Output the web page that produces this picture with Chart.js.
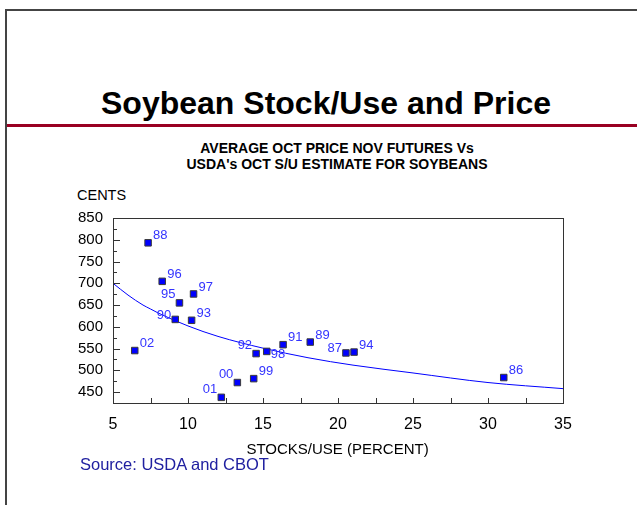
<!DOCTYPE html>
<html>
<head>
<meta charset="utf-8">
<script src="https://cdn.jsdelivr.net/npm/chart.js@4.4.1/dist/chart.umd.min.js"></script>
<style>
body { margin: 0; width: 637px; height: 505px; overflow: hidden; background: #fff; position: relative; font-family: "Liberation Sans", Arial, sans-serif; }
#marco { position: absolute; left: 5px; top: 9px; width: 640px; height: 500px; border-top: 2px solid #444; border-left: 2px solid #444; }
#titulo { position: absolute; left: 0; width: 652px; top: 87px; text-align: center; font-size: 32px; line-height: 32px; font-weight: bold; color: #000; }
#raya { position: absolute; left: 7px; right: 0; top: 124px; height: 3px; background: #990022; }
#subtitulo { position: absolute; left: 0; width: 674px; top: 139.6px; text-align: center; font-size: 14px; line-height: 16.5px; font-weight: bold; color: #000; }
#cents { position: absolute; left: 77px; top: 187.7px; font-size: 14.5px; line-height: 14.5px; color: #000; }
#ejex { position: absolute; left: 0; width: 675px; top: 440.6px; text-align: center; font-size: 15px; line-height: 15px; color: #000; }
#fuente { position: absolute; left: 80px; top: 456px; font-size: 16.5px; line-height: 16.5px; color: #2020a0; }
#grafico { position: absolute; left: 0; top: 0; }
</style>
</head>
<body>
<div id="marco"></div>
<div id="titulo">Soybean Stock/Use and Price</div>
<div id="raya"></div>
<div id="subtitulo">AVERAGE OCT PRICE NOV FUTURES Vs<br>USDA's OCT S/U ESTIMATE FOR SOYBEANS</div>
<div id="cents">CENTS</div>
<canvas id="grafico" width="637" height="505"></canvas>
<div id="ejex">STOCKS/USE (PERCENT)</div>
<div id="fuente">Source: USDA and CBOT</div>

<script>
/* ***** Datos ***** */
const anios = ["86", "87", "88", "89", "90", "91", "92", "93", "94", "95", "96", "97", "98", "99", "00", "01", "02"];
const stocksUso = [31.05, 20.53, 7.34, 18.15, 9.15, 16.34, 14.54, 10.24, 21.07, 9.43, 8.28, 10.37, 15.25, 14.38, 13.29, 12.22, 6.45];
const precios = [483.5, 540, 793, 565, 617, 559, 538.5, 615, 542, 655, 704.5, 675.5, 543.5, 481, 472, 438, 545.5];

// curva de tendencia
const curvaX = [5, 6, 7, 7.5, 8, 10, 12, 15, 18, 21, 25, 30, 35];
const curvaY = [700, 673, 650, 641, 632, 602, 578, 551, 529, 512, 494, 472, 458];

const ticksX = [5, 10, 15, 20, 25, 30, 35];
const ticksY = [450, 500, 550, 600, 650, 700, 750, 800, 850];
const ticksMenoresX = [7.5, 10, 12.5, 15, 17.5, 20, 22.5, 25, 27.5, 30, 32.5];
const ticksMenoresY = [450, 475, 500, 525, 550, 575, 600, 625, 650, 675, 700, 725, 750, 775, 800, 825];

// donde va la etiqueta de cada punto
const posEtiqueta = ["ne", "w", "ne", "ne", "w", "ne", "nw", "ne", "ne", "nw", "ne", "ne", "se", "ne", "nw", "nw", "ne"];

const fuente = "'Liberation Sans', Arial, sans-serif";

/* ***** Marco y ticks hacia dentro ***** */
const pluginMarco = {
  id: "marco",
  afterDatasetsDraw(chart) {
    const ctx = chart.ctx;
    const a = chart.chartArea;
    const sx = chart.scales.x;
    const sy = chart.scales.y;
    ctx.save();
    ctx.strokeStyle = "#333";
    ctx.lineWidth = 1;
    ctx.strokeRect(Math.round(a.left) + 0.5, Math.round(a.top) + 0.5, Math.round(a.right - a.left), Math.round(a.bottom - a.top));
    ctx.beginPath();
    ticksMenoresX.forEach(v => {
      const px = Math.round(sx.getPixelForValue(v)) + 0.5;
      ctx.moveTo(px, a.bottom);
      ctx.lineTo(px, a.bottom - 5);
    });
    ticksMenoresY.forEach(v => {
      const py = Math.round(sy.getPixelForValue(v)) + 0.5;
      const largo = (v % 50 === 0) ? 7 : 4;
      ctx.moveTo(a.left, py);
      ctx.lineTo(a.left + largo, py);
    });
    ctx.stroke();

    // etiquetas de los puntos
    const meta = chart.getDatasetMeta(0);
    ctx.fillStyle = "#3333ff";
    ctx.font = "13px " + fuente;
    ctx.textBaseline = "middle";
    meta.data.forEach((p, i) => {
      const pos = posEtiqueta[i];
      if (pos === "ne") { ctx.textAlign = "left"; ctx.fillText(anios[i], p.x + 5, p.y - 7); }
      else if (pos === "nw") { ctx.textAlign = "right"; ctx.fillText(anios[i], p.x - 4, p.y - 8); }
      else if (pos === "w") { ctx.textAlign = "right"; ctx.fillText(anios[i], p.x - 4, p.y - 4.5); }
      else { ctx.textAlign = "left"; ctx.fillText(anios[i], p.x + 4, p.y + 3); }
    });
    ctx.restore();
  }
};

const puntos = stocksUso.map((x, i) => ({ x: x, y: precios[i] }));
const curva = curvaX.map((x, i) => ({ x: x, y: curvaY[i] }));

const ctx = document.getElementById("grafico");
const grafico = new Chart(ctx, {
  type: "scatter",
  data: {
    datasets: [{
      label: "Precio",
      data: puntos,
      pointStyle: "rect",
      pointRadius: 4.6,
      backgroundColor: "#0000ff",
      borderColor: "#3a3a3a",
      borderWidth: 1,
      order: 0
    }, {
      label: "Tendencia",
      data: curva,
      showLine: true,
      pointRadius: 0,
      borderColor: "#0000ff",
      borderWidth: 1,
      tension: 0.4,
      cubicInterpolationMode: "monotone",
      order: 1
    }]
  },
  options: {
    responsive: false,
    animation: false,
    devicePixelRatio: 1,
    layout: { padding: { top: 218, right: 74, bottom: 0, left: 0 } },
    plugins: { legend: { display: false }, tooltip: { enabled: false } },
    scales: {
      x: {
        type: "linear",
        min: 5,
        max: 35,
        afterFit(s) { s.height = 102; },
        afterBuildTicks(s) { s.ticks = ticksX.map(v => ({ value: v })); },
        grid: { display: false, drawTicks: false },
        border: { display: false },
        ticks: { color: "#000", padding: 12, font: { family: fuente, size: 16 } }
      },
      y: {
        min: 425,
        max: 850,
        afterFit(s) { s.width = 113; },
        afterBuildTicks(s) { s.ticks = ticksY.map(v => ({ value: v })); },
        grid: { display: false, drawTicks: false },
        border: { display: false },
        ticks: { color: "#000", padding: 10, font: { family: fuente, size: 15 } }
      }
    }
  },
  plugins: [pluginMarco]
});
</script>
</body>
</html>
